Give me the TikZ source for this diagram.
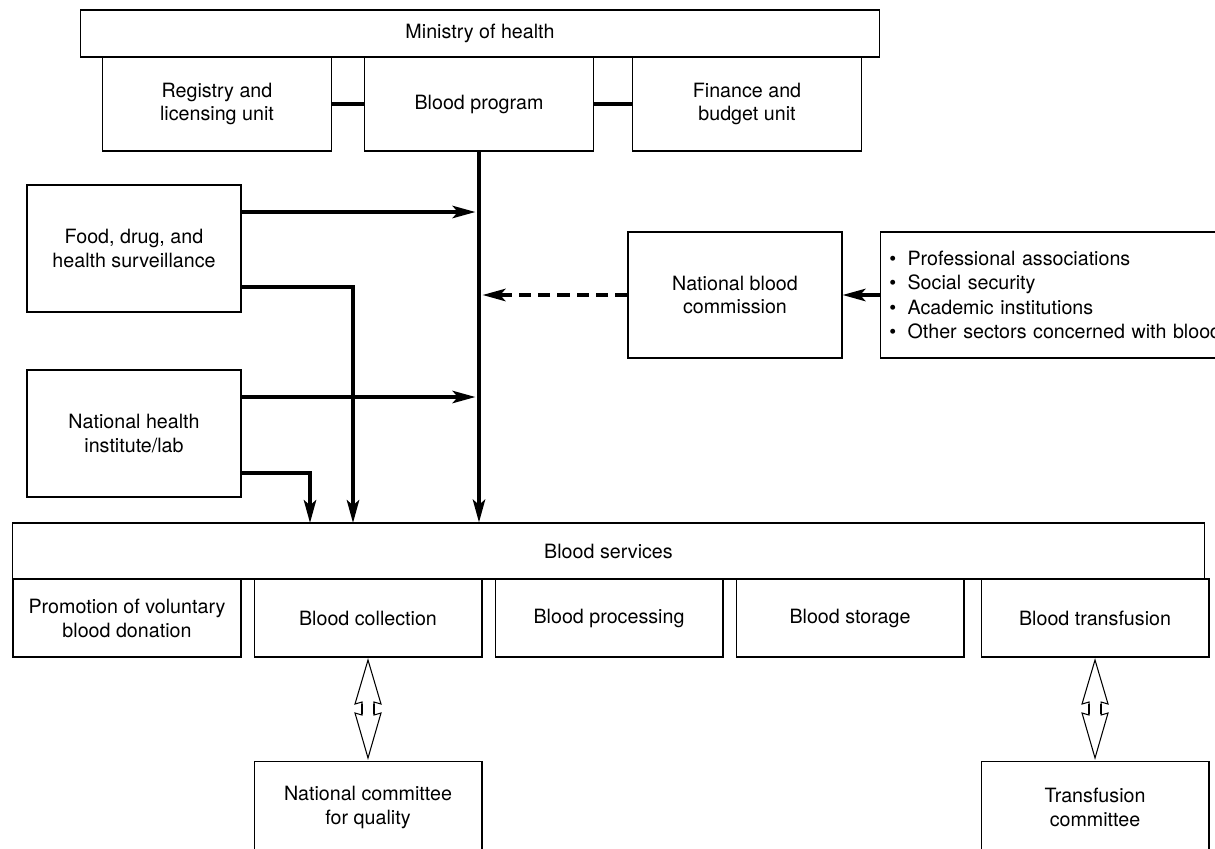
\documentclass[tikz,border=0pt]{standalone}
\usepackage{fontspec}
\setmainfont{TeX Gyre Heros}
\usetikzlibrary{
    arrows.meta,
    positioning,
    calc
}
\tikzset{
    >={Stealth[length=13pt,width=7pt,inset=3pt]},
    every node/.style={font=\fontsize{11.2}{13.6}\selectfont},
    box/.style={draw, line width=0.6pt, align=center, inner sep=2pt},
    unitbox/.style={box, minimum width=4.58cm, minimum height=1.88cm},
    sidebox/.style={box, minimum width=4.28cm, minimum height=2.54cm},
    subbox/.style={box, minimum width=4.56cm, minimum height=1.56cm},
    flow/.style={->, line width=2.2pt},
    link/.style={line width=2.2pt},
    zigarrow/.pic={
        \draw[line width=0.6pt, line join=miter] (0,-49) -- (-13,-5) -- (-6,-7) -- (-6,6) -- (-13,4) -- (0,49)
            -- (13,4) -- (6,6) -- (6,-7) -- (13,-5) -- cycle;
        \draw[line width=1.4pt] (-6,-5) -- (-6,5) (6,-5) -- (6,5);
    },
}

\begin{document}
\begin{tikzpicture}[x=0.02cm, y=-0.02cm]
   \useasboundingbox (0,0) rectangle (1215,849);
   \clip (0,0) rectangle (1215,849);
   % ministry and its units
   \node[box, minimum width=16cm, minimum height=0.94cm] (moh) at (480,33.5) {Ministry of health};
   \node[unitbox] (prog) at (479,104) {Blood program};
   \node[unitbox] (reg) [left=0.64cm of prog] {Registry and\\licensing unit};
   \node[unitbox] (fin) [right=0.76cm of prog] {Finance and\\budget unit};
   % side bodies
   \node[sidebox] (food) at (134,248.5) {Food, drug, and\\health surveillance};
   \node[sidebox] (nhi) at (134,433.5) {National health\\institute/lab};
   \node[box, minimum width=4.28cm, minimum height=2.52cm] (nbc) at (735,295) {National blood\\commission};
   \node[box, anchor=west, align=left, text width=6.8cm, inner xsep=5pt, minimum height=2.52cm,
         font=\fontsize{11.2}{14}\selectfont] (others) at (880,295)
        {\textbullet\hspace{6.5pt}Professional associations\\
         \textbullet\hspace{6.5pt}Social security\\
         \textbullet\hspace{6.5pt}Academic institutions\\
         \textbullet\hspace{6.5pt}Other sectors concerned with blood};
   % blood services
   \node[box, minimum width=23.86cm, minimum height=1.12cm] (bs) at (608.5,551) {Blood services};
   \node[subbox] (prom) at (127,618) {Promotion of voluntary\\blood donation};
   \node[subbox] (coll) [right=0.24cm of prom] {Blood collection};
   \node[subbox] (proc) [right=0.24cm of coll] {Blood processing};
   \node[subbox] (stor) [right=0.24cm of proc] {Blood storage};
   \node[subbox] (trans) [right=0.32cm of stor] {Blood transfusion};
   \node[box, minimum width=4.56cm, minimum height=1.86cm] (ncq) [below=2.06cm of coll] {National committee\\for quality};
   \node[box, minimum width=4.56cm, minimum height=1.86cm] (tc) [below=2.06cm of trans] {Transfusion\\committee};
   % connectors
   \coordinate (food_a) at ([yshift=0.73cm]food.east);
   \coordinate (food_b) at ([yshift=-0.77cm]food.east);
   \coordinate (nhi_a) at ([yshift=0.73cm]nhi.east);
   \coordinate (nhi_b) at ([yshift=-0.79cm]nhi.east);
   \coordinate (bs_a) at (310,523);
   \coordinate (bs_b) at (353,523);
   \draw[link] (reg) -- (prog);
   \draw[link] (prog) -- (fin);
   \draw[flow] (prog.south) -- (prog.south |- bs.north);
   \draw[flow, shorten >=2pt] (food_a) -- (food_a -| prog.south);
   \draw[flow] (food_b) -| (bs_b);
   \draw[flow, shorten >=2pt] (nhi_a) -- (nhi_a -| prog.south);
   \draw[flow] (nhi_b) -| (bs_a);
   \draw[flow, dash pattern=on 7pt off 4pt, shorten >=2pt] (nbc.west) -- (nbc.west -| prog.south);
   \draw[flow] (others.west) -- (nbc.east);
   \pic at ($(coll.south)!0.5!(ncq.north)$) {zigarrow};
   \pic at ($(trans.south)!0.5!(tc.north)$) {zigarrow};
\end{tikzpicture}
\end{document}
